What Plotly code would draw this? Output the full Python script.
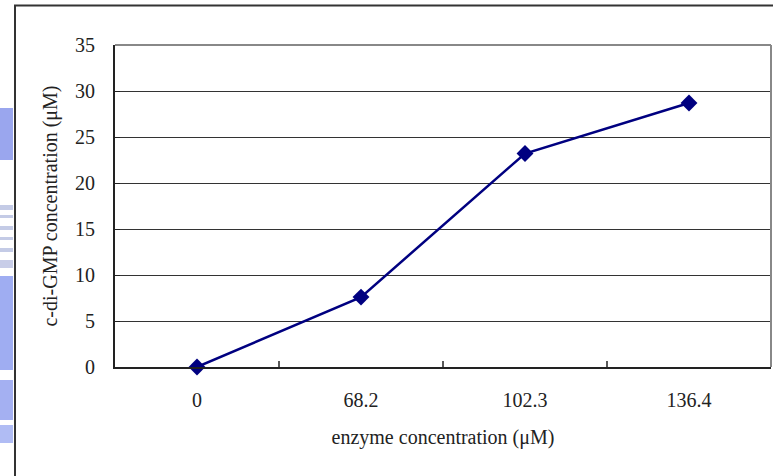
import plotly.graph_objects as go

# Data
categories = ["0", "68.2", "102.3", "136.4"]
values = [0, 7.6, 23.2, 28.7]
y_ticks = [0, 5, 10, 15, 20, 25, 30, 35]

W, H = 773, 476
L, R, T, B = 115, 2, 45, 109
pw, ph = W - L - R, H - T - B

def px(x):
    return (x - L) / pw

def py(y):
    return (H - B - y) / ph

fig = go.Figure()
fig.add_trace(go.Scatter(
    x=categories, y=values, mode="lines+markers",
    line=dict(color="#000080", width=2.5),
    marker=dict(symbol="diamond", size=13, color="#000080"),
    showlegend=False, cliponaxis=False,
))

font = dict(family="Liberation Serif, Times New Roman, serif", size=20, color="#222")

shapes = []
# Watermark-like blue patches at left edge (scan artifact)
patches = [
    (108, 160, "#9aa6ee"), (205, 210, "#c4cbe6"), (215, 218, "#c4cbe6"),
    (226, 230, "#c4cbe6"), (237, 240, "#c4cbe6"), (248, 252, "#c4cbe6"),
    (260, 268, "#c8cde8"), (276, 370, "#9fadf2"), (380, 420, "#a4b0f2"),
    (425, 443, "#b0bcf4"),
]
for y0, y1, c in patches:
    shapes.append(dict(type="rect", xref="paper", yref="paper",
                       x0=px(0), x1=px(13), y0=py(y1), y1=py(y0),
                       line=dict(width=0), fillcolor=c, layer="below"))
# Outer chart border
shapes.append(dict(type="rect", xref="paper", yref="paper",
                   x0=px(15), x1=px(790), y0=py(520), y1=py(5.5),
                   line=dict(color="#333", width=2), fillcolor="rgba(0,0,0,0)"))
# Plot area border (top and right, grey)
shapes.append(dict(type="line", xref="paper", yref="paper", x0=0, x1=1, y0=1, y1=1,
                   line=dict(color="#888", width=2)))
shapes.append(dict(type="line", xref="paper", yref="paper", x0=1, x1=1, y0=0, y1=1,
                   line=dict(color="#888", width=2)))

fig.update_layout(
    width=W, height=H,
    margin=dict(l=L, r=R, t=T, b=B),
    paper_bgcolor="white", plot_bgcolor="white",
    font=font,
    shapes=shapes,
    xaxis=dict(
        type="category", categoryorder="array", categoryarray=categories,
        range=[-0.5, 3.5],
        showgrid=False, showline=True, linecolor="#222", linewidth=2,
        ticks="", ticklabelstandoff=14, tickfont=font,
        title=dict(text="enzyme concentration (μM)", font=font, standoff=20),
        zeroline=False,
    ),
    yaxis=dict(
        range=[0, 35], tickvals=y_ticks,
        showgrid=True, gridcolor="#333", gridwidth=1,
        showline=True, linecolor="#222", linewidth=2,
        ticks="inside", ticklen=5, tickcolor="#222",
        tickfont=font, ticklabelstandoff=14,
        title=dict(text="c-di-GMP concentration (μM)", font=font, standoff=12),
        zeroline=False,
    ),
)

# Category divider ticks on the x axis (between categories)
for i in range(1, len(categories)):
    fig.add_shape(type="line", xref="x", yref="paper",
                  x0=i - 0.5, x1=i - 0.5, y0=0, y1=6 / ph,
                  line=dict(color="#222", width=1.5))

fig.write_html("out.html")
